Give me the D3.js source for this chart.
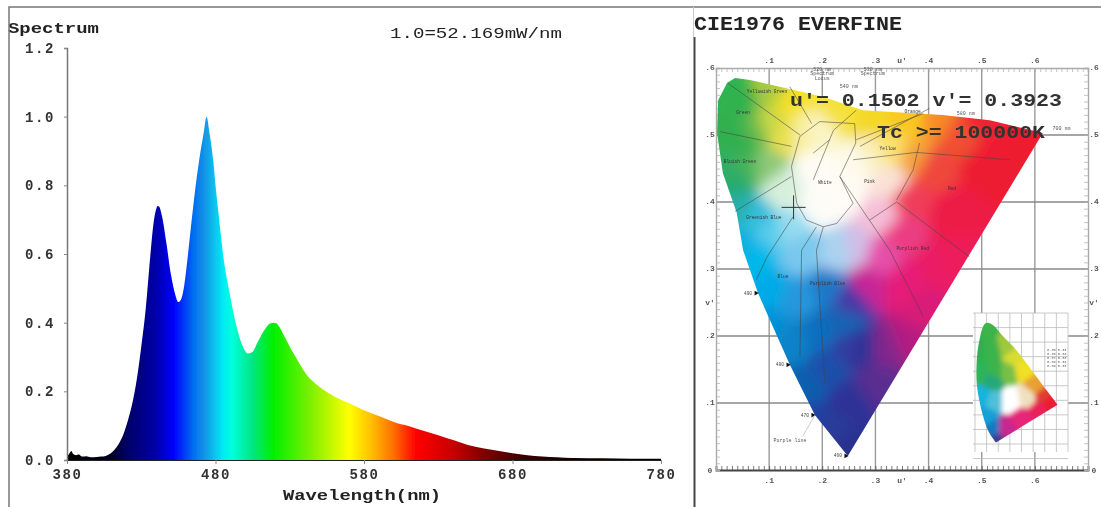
<!DOCTYPE html>
<html>
<head>
<meta charset="utf-8">
<script src="https://cdn.jsdelivr.net/npm/d3@7"></script>
<style>
body { margin: 0; background: #fff; }
text { font-family: "Liberation Mono", "DejaVu Sans Mono", monospace; }
</style>
</head>
<body>
<script>
// spectrum
var wavelengths = [380,381,383,384,386,388,390,393,396,400,403,406,409,412,415,418,421,424,427,430,433,
    436,438,440,441,442,444,447,450,453,455,457,459,461.5,463.5,465.5,469,472,474,476,478.6,480,482,484,486,488,490,
    493,496,499,502,505,508,511,514,517,519,521,524,527,530,534,538,542,546,550,555,560,565,570,
    580,590,600,610,620,630,640,650,660,670,680,690,700,710,720,740,760,780];
var spectrum = [.01,.015,.026,.018,.014,.016,.01,.011,.008,.009,.01,.012,.018,.03,.048,.075,.115,.165,.235,.33,.44,
    .59,.68,.73,.74,.738,.71,.63,.54,.48,.46,.47,.51,.6,.68,.757,.873,.952,1,.952,.868,.8,.72,.64,.57,.52,.475,
    .41,.36,.325,.31,.315,.34,.365,.385,.398,.4,.398,.38,.355,.33,.3,.27,.245,.228,.213,.198,.185,.175,.165,
    .145,.128,.111,.099,.085,.072,.058,.044,.034,.027,.02,.014,.01,.008,.006,.005,.004,.004];
var xTicks = [380,480,580,680,780];
var yTicks = [0,.2,.4,.6,.8,1,1.2];
var stopNm = [380,402,410,420,440,452,465,473,485,491,505,519,545,570,585,600,615,640,660,690,720,780];
var stopColors = ["#000000","#000010","#000028","#000064","#0000aa","#0000ff","#006ef0","#1496e6","#00ebf5","#00ffdc","#00e682","#00f000","#82f000","#ffff00","#ffbe00","#ff6e00","#ff0000","#c80000","#820000","#320000","#140000","#000000"];

// CIE 1976 diagram, all pairs are [u', v']
var locus = [[.248,.021],[.186,.082],[.139,.157],[.079,.264],[.051,.328],[.039,.384],[.013,.443],[.002,.503],[.004,.552],[.021,.578],[.036,.585],[.064,.582],[.12,.572],[.201,.557],[.276,.537],[.427,.53],[.515,.522],[.615,.503]];
var colorU = [.017,.045,.011,.055,.023,.077,.064,.092,.032,.045,.077,.107,.077,.126,.107,.139,.126,.171,.201,.195,.242,.195,.233,.295,.359,.421,.453,.327,.295,.265,.327,.378,.402,.359,.314,.346,.453,.577,.515,.453,.139,.102,.158,.195,.214,.252,.252,.248,.233,.265,.284,.308,.359,.421,.327,.265,.303,.359,.393,.139,.167,.186,.214,.233,.214,.248,.158,.105,.6,.5,.25,.05,.1];
var colorV = [.575,.552,.507,.493,.44,.503,.452,.452,.428,.393,.378,.354,.318,.418,.567,.552,.503,.503,.503,.448,.418,.396,.527,.527,.518,.518,.503,.478,.467,.452,.428,.463,.452,.403,.378,.354,.378,.488,.452,.318,.358,.269,.254,.209,.149,.179,.104,.03,.324,.328,.279,.318,.279,.303,.179,.179,.13,.19,.239,.194,.119,.075,.06,.224,.269,.254,.328,.512,.51,.53,.55,.33,.21];
var colorHex = ["#2fb451","#30b24e","#30b050","#30b050","#2eae66","#6abc4e","#46b45a","#8cc878","#28aa6e","#28afaa","#32bedc","#5acdeb","#00b9eb","#d7f0dc","#aaca40","#f5e128","#ebe150","#faf0aa","#faf5c8","#fffcf5","#fffcf5","#fdfcf8","#f5e146","#f5d728","#fac823","#f88c28","#f05032","#fae16e","#faf0be","#fdfaeb","#fae1d7","#f5a03c","#f0463c","#f03c5a","#f5bed7","#eb3c82","#ed1e46","#ed1e2d","#ed1c32","#ed1e5a","#96dcf0","#00aae6","#2896dc","#0a6ebe","#1e50aa","#323ca0","#2d3296","#2b3290","#aad2f0","#d2bee6","#c82896","#e650aa","#e61e78","#eb1e64","#82288c","#323296","#5a2d91","#b41e82","#d81e78","#0a82c8","#0f5eaf","#2040a0","#2b3a98","#1464b4","#1e78c8","#4638a5","#78c8ee","#c8d746","#ed1e2d","#ed2030","#f5e128","#10b0e0","#0090d8"];
var whiteArea = [[.261,.517],[.263,.488],[.233,.438],[.258,.398],[.227,.368],[.202,.363],[.17,.373],[.152,.398],[.142,.453],[.158,.498],[.195,.52],[.261,.517]];
var regionLines = [
  [[.008,.505],[.142,.483]],
  [[.023,.577],[.158,.5]],
  [[.139,.572],[.18,.517]],
  [[.036,.386],[.142,.438]],
  [[.258,.463],[.377,.474],[.553,.463]],
  [[.383,.488],[.371,.448],[.34,.403]],
  [[.34,.4],[.477,.318]],
  [[.289,.373],[.34,.4]],
  [[.233,.438],[.327,.328],[.39,.229]],
  [[.145,.378],[.096,.318],[.076,.284]],
  [[.189,.363],[.161,.328],[.158,.169]],
  [[.202,.363],[.189,.328],[.205,.129]],
  [[.271,.483],[.402,.54]],
  [[.264,.493],[.39,.532]],
  [[.214,.493],[.183,.473]],
  [[.264,.537],[.221,.507],[.183,.433]]
];
var regionNames = ["Yellowish Green","Green","Bluish Green","Greenish Blue","Blue","Purplish Blue","Purplish Red","Red","Pink","White","Yellow","Orange"];
var regionU = [.096,.051,.045,.09,.126,.21,.37,.444,.289,.205,.323,.37];
var regionV = [.563,.531,.458,.375,.287,.276,.328,.418,.428,.427,.478,.533];
var noteText = ["520 nm","Spectrum","Locus","530 nm","Spectrum","540 nm","580 nm","700 nm"];
var noteU = [.2,.2,.2,.295,.295,.25,.47,.65];
var noteV = [.596,.589,.582,.596,.589,.57,.53,.507];
var crossPoint = [.146,.392];
var wedgeU = [.079,.139,.186,.248];
var wedgeV = [.264,.157,.082,.021];
var wedgeNm = ["490","480","470","460"];

// small xy diagram in the corner
var insetX = [.18,.12,.07,.02,.012,.03,.09,.15,.23,.36,.53,.71];
var insetY = [.01,.08,.19,.38,.5,.68,.83,.82,.75,.64,.46,.27];
var insetColorX = [.095,.043,.155,.043,.189,.275,.344,.413,.275,.516,.576,.628,.447,.301,.155,.069,.086,.155,.189,.275,.413,.559,.155];
var insetColorY = [.8,.645,.645,.488,.488,.666,.598,.508,.488,.391,.323,.275,.323,.302,.302,.323,.185,.096,.027,.096,.165,.233,.44];
var insetColorHex = ["#3cb44b","#32b050","#3cb44b","#2db45a","#3cb44b","#a0c83c","#d8dc32","#f0e028","#78c046","#e8a030","#e03c30","#ed1c30","#f0e0c0","#ffffff","#50c0d8","#14b4dc","#14a0d8","#1478c0","#3c3c96","#c82890","#e62878","#e8205a","#28a878"];

var W = 1101, H = 507;
var svg = d3.select("body").append("svg").attr("width", W).attr("height", H);
svg.append("rect").attr("width", W).attr("height", H).attr("fill", "#fff");

var defs = svg.append("defs");
function blur(id, amount) {
    defs.append("filter").attr("id", id)
        .attr("filterUnits", "userSpaceOnUse")
        .attr("x", 0).attr("y", 0).attr("width", W).attr("height", H)
        .append("feGaussianBlur").attr("stdDeviation", amount);
}
blur("soft", 0.45);
blur("softer", 0.7);
blur("field", 7);
blur("insetField", 2.5);

/* ---------- left panel: spectrum ---------- */
var x = d3.scaleLinear().domain([380, 780]).range([67, 661]);
var y = d3.scaleLinear().domain([0, 1.2]).range([460, 48]);

var grad = defs.append("linearGradient").attr("id", "rainbow")
    .attr("gradientUnits", "userSpaceOnUse")
    .attr("x1", x(380)).attr("x2", x(780)).attr("y1", 0).attr("y2", 0);
stopNm.forEach(function(nm, i) {
    grad.append("stop").attr("offset", (nm - 380) / 400).attr("stop-color", stopColors[i]);
});

var left = svg.append("g").attr("filter", "url(#soft)");

var area = d3.area()
    .x(function(d, i) { return x(wavelengths[i]); })
    .y0(y(0))
    .y1(function(d) { return y(d); })
    .curve(d3.curveMonotoneX);

left.append("path").datum(spectrum).attr("d", area).attr("fill", "url(#rainbow)");

var yAxis = left.append("g").attr("transform", "translate(" + x(380) + ",0)")
    .call(d3.axisLeft(y).tickValues(yTicks).tickFormat(d3.format(".1f")).tickSize(3).tickPadding(9));
var xAxis = left.append("g").attr("transform", "translate(0," + y(0) + ")")
    .call(d3.axisBottom(x).tickValues(xTicks).tickSize(4).tickPadding(5));

yAxis.select(".domain").attr("stroke", "#777").attr("stroke-width", 1.5);
xAxis.select(".domain").attr("stroke", "#222").attr("stroke-width", 1);
left.selectAll(".tick line").attr("stroke", "#888");
left.selectAll(".tick text")
    .attr("font-family", "Liberation Mono").attr("font-size", 14).attr("font-weight", "bold")
    .attr("fill", "#333").attr("letter-spacing", 1.6);

function label(g, str, px, py, size, width, bold, color) {
    return g.append("text").text(str).attr("x", px).attr("y", py)
        .attr("font-size", size).attr("font-weight", bold ? "bold" : "normal")
        .attr("fill", color || "#222")
        .attr("textLength", width).attr("lengthAdjust", "spacingAndGlyphs");
}
label(left, "Spectrum", 8, 33, 15, 91, true);
label(left, "1.0=52.169mW/nm", 390, 38, 14, 172, false);
label(left, "Wavelength(nm)", 283, 500, 15, 158, true);

/* ---------- right panel: CIE 1976 ---------- */
var u = d3.scaleLinear().domain([0, .7]).range([716, 1088]);
var v = d3.scaleLinear().domain([0, .6]).range([470, 68]);

var right = svg.append("g").attr("filter", "url(#softer)");

// grid
var gridU = [.1,.2,.3,.4,.5,.6];
var gridV = [.1,.2,.3,.4,.5];
right.selectAll(".gu").data(gridU).enter().append("line")
    .attr("x1", u).attr("x2", u).attr("y1", v(0)).attr("y2", v(.6))
    .attr("stroke", "#999").attr("stroke-width", 1.4);
right.selectAll(".gv").data(gridV).enter().append("line")
    .attr("y1", v).attr("y2", v).attr("x1", u(0)).attr("x2", u(.7))
    .attr("stroke", "#888").attr("stroke-width", 1.6);

// frame with dense ticks
var minorU = d3.range(0, 71).map(function(d) { return d / 100; });
var minorV = d3.range(0, 61).map(function(d) { return d / 100; });
function frameAxis(axis, tr, vals, scale, color, width) {
    var g = right.append("g").attr("transform", tr)
        .call(axis(scale).tickValues(vals).tickSize(-4).tickFormat(""));
    g.selectAll("line").attr("stroke", color).attr("stroke-width", .7);
    g.select(".domain").attr("stroke", color).attr("stroke-width", width);
}
frameAxis(d3.axisBottom, "translate(0," + v(0) + ")", minorU, u, "#444", 1.8);
frameAxis(d3.axisTop, "translate(0," + v(.6) + ")", minorU, u, "#aaa", 1.4);
frameAxis(d3.axisLeft, "translate(" + u(0) + ",0)", minorV, v, "#aaa", 1.4);
frameAxis(d3.axisRight, "translate(" + u(.7) + ",0)", minorV, v, "#aaa", 1.4);

// coloured field: one voronoi cell per colour reading, blurred, clipped to the locus
var line = d3.line().x(function(d) { return u(d[0]); }).y(function(d) { return v(d[1]); });
defs.append("clipPath").attr("id", "locusClip").append("path").attr("d", line(locus) + "Z");

var fieldPts = colorHex.map(function(d, i) { return [u(colorU[i]), v(colorV[i])]; });
var fieldCells = d3.Delaunay.from(fieldPts).voronoi([660, 20, 1100, 500]);
right.append("g").attr("clip-path", "url(#locusClip)")
    .append("g").attr("filter", "url(#field)")
    .selectAll("path").data(colorHex).enter().append("path")
    .attr("d", function(d, i) { return fieldCells.renderCell(i); })
    .attr("fill", function(d) { return d; })
    .attr("stroke", function(d) { return d; });

// region borders
var borders = right.append("g").attr("fill", "none").attr("stroke", "#444").attr("stroke-opacity", .7).attr("stroke-width", .8);
borders.append("path").attr("d", line(whiteArea));
borders.selectAll(".r").data(regionLines).enter().append("path").attr("d", line);

// region names, tiny as in the source
right.selectAll(".rn").data(regionNames).enter().append("text")
    .text(function(d) { return d; })
    .attr("x", function(d, i) { return u(regionU[i]); })
    .attr("y", function(d, i) { return v(regionV[i]); })
    .attr("text-anchor", "middle")
    .attr("font-family", "Liberation Sans").attr("font-size", 4.5).attr("fill", "#333");

right.selectAll(".note").data(noteText).enter().append("text")
    .text(function(d) { return d; })
    .attr("x", function(d, i) { return u(noteU[i]); })
    .attr("y", function(d, i) { return v(noteV[i]); })
    .attr("text-anchor", "middle")
    .attr("font-family", "Liberation Sans").attr("font-size", 5).attr("fill", "#555");

// wavelength marks on the locus
wedgeNm.forEach(function(nm, i) {
    right.append("path").attr("d", d3.symbol().type(d3.symbolTriangle).size(10)())
        .attr("transform", "translate(" + (u(wedgeU[i]) - 2) + "," + v(wedgeV[i]) + ") rotate(90)")
        .attr("fill", "#111");
    right.append("text").text(nm).attr("x", u(wedgeU[i]) - 14).attr("y", v(wedgeV[i]) + 1.5)
        .attr("font-size", 4.5).attr("fill", "#444");
});
right.append("text").text("Purple line").attr("x", u(.108)).attr("y", v(.042))
    .attr("font-size", 5).attr("fill", "#555");
right.append("line").attr("x1", u(.163)).attr("y1", v(.05)).attr("x2", u(.186)).attr("y2", v(.082))
    .attr("stroke", "#aaa").attr("stroke-width", .6);

// cross for the measured point
var cu = u(crossPoint[0]), cv = v(crossPoint[1]);
right.append("path").attr("d", "M" + (cu - 12) + "," + cv + "H" + (cu + 12) + "M" + cu + "," + (cv - 12) + "V" + (cv + 12))
    .attr("stroke", "#333").attr("stroke-width", 1).attr("fill", "none");

// tick labels round the frame
var labelU = [.1,.2,.3,.4,.5,.6];
var labelV = [.1,.2,.3,.4,.5,.6];
function tickText(str, px, py) {
    right.append("text").text(str).attr("x", px).attr("y", py).attr("text-anchor", "middle")
        .attr("font-size", 8).attr("font-weight", "bold").attr("fill", "#555");
}
labelU.forEach(function(d) {
    tickText(String(d).slice(1), u(d), 63);
    tickText(String(d).slice(1), u(d), 483);
});
labelV.forEach(function(d) {
    tickText(String(d).slice(1), 710, v(d) + 2);
    tickText(String(d).slice(1), 1094, v(d) + 2);
});
tickText("0", 710, 473);
tickText("0", 1094, 473);
tickText("u'", u(.35), 63);
tickText("u'", u(.35), 483);
tickText("v'", 710, v(.25) + 2);
tickText("v'", 1094, v(.25) + 2);

/* ---------- inset ---------- */
var ix = d3.scaleLinear().domain([0, .8]).range([975, 1068]);
var iy = d3.scaleLinear().domain([0, .9]).range([444, 313]);
var inset = right.append("g");
inset.append("rect").attr("x", 973).attr("y", 313).attr("width", 95).attr("height", 139).attr("fill", "#fff");
var insetGridX = d3.range(0, 9).map(function(d) { return d / 10; });
var insetGridY = d3.range(-1, 10).map(function(d) { return d / 10; });
inset.selectAll(".ix").data(insetGridX).enter().append("line")
    .attr("x1", ix).attr("x2", ix).attr("y1", 313).attr("y2", 452)
    .attr("stroke", "#bbb").attr("stroke-width", .8);
inset.selectAll(".iy").data(insetGridY).enter().append("line")
    .attr("y1", iy).attr("y2", iy).attr("x1", 973).attr("x2", 1068)
    .attr("stroke", "#bbb").attr("stroke-width", .8);

// grey block of small notes, upper right of the inset
var insetNotes = [.35,.36,.37,.38,.39];
inset.selectAll(".in").data(insetNotes).enter().append("text")
    .text(function(d) { return d.toFixed(2) + " 0.33"; })
    .attr("x", ix(.62))
    .attr("y", function(d, i) { return 351 + i * 4; })
    .attr("font-size", 3.6).attr("fill", "#666");

var insetPts = insetX.map(function(d, i) { return [d, insetY[i]]; });
var iline = d3.line().x(function(d) { return ix(d[0]); }).y(function(d) { return iy(d[1]); })
    .curve(d3.curveCatmullRom);
defs.append("clipPath").attr("id", "insetClip").append("path").attr("d", iline(insetPts) + "Z");
var insetCells = d3.Delaunay.from(insetColorHex.map(function(d, i) {
    return [ix(insetColorX[i]), iy(insetColorY[i])];
})).voronoi([960, 300, 1080, 460]);
inset.append("g").attr("clip-path", "url(#insetClip)")
    .append("g").attr("filter", "url(#insetField)")
    .selectAll("path").data(insetColorHex).enter().append("path")
    .attr("d", function(d, i) { return insetCells.renderCell(i); })
    .attr("fill", function(d) { return d; })
    .attr("stroke", function(d) { return d; });

/* ---------- overlay text and panel lines ---------- */
var top_ = svg.append("g").attr("filter", "url(#soft)");
top_.append("path").attr("d", "M9,507V7H1101").attr("fill", "none").attr("stroke", "#777").attr("stroke-width", 1.5);
top_.append("path").attr("d", "M694.5,37V507").attr("fill", "none").attr("stroke", "#444").attr("stroke-width", 2);
top_.append("path").attr("d", "M693.5,7V37").attr("fill", "none").attr("stroke", "#ccc").attr("stroke-width", 1);
label(top_, "CIE1976 EVERFINE", 694, 30, 20, 208, true, "#222");
label(top_, "u'= 0.1502 v'= 0.3923", 790, 106, 18, 272, true, "#333");
label(top_, "Tc >= 100000K", 877, 138, 18, 168, true, "#333");
</script>
</body>
</html>
